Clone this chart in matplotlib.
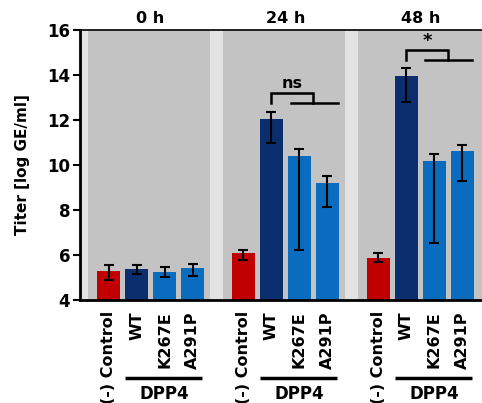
import numpy as np
import matplotlib
matplotlib.use("Agg")
import matplotlib.pyplot as plt

plt.rcParams['font.family'] = ['DejaVu Sans']
plt.rcParams['font.weight'] = 'bold'

# --------------------------------------------------------------
# Data
# --------------------------------------------------------------

timepoints = ["0 h", "24 h", "48 h"]
conditions = ["(-) Control", "WT", "K267E", "A291P"]

titer_0h = [5.30, 5.38, 5.26, 5.41]
titer_24h = [6.07, 12.04, 10.41, 9.21]
titer_48h = [5.88, 13.97, 10.18, 10.62]

err_hi_0h = [0.26, 0.18, 0.19, 0.19]
err_lo_0h = [0.41, 0.22, 0.22, 0.33]
err_hi_24h = [0.15, 0.30, 0.31, 0.30]
err_lo_24h = [0.29, 1.05, 4.19, 1.09]
err_hi_48h = [0.19, 0.34, 0.29, 0.28]
err_lo_48h = [0.20, 1.18, 3.63, 1.33]

sig_labels = [None, "ns", "*"]
sig_heights = [None, 12.74, 14.67]

values = [titer_0h, titer_24h, titer_48h]
err_hi = [err_hi_0h, err_hi_24h, err_hi_48h]
err_lo = [err_lo_0h, err_lo_24h, err_lo_48h]

colors = ["#c00000", "#0b2e6f", "#0a6cbf", "#0a6cbf"]

# --------------------------------------------------------------
# Plot
# --------------------------------------------------------------

fig = plt.figure(figsize=(4.82, 4.03), dpi=100)
ax = fig.add_axes([0.166, 0.2556, 0.834, 0.67])
ax.set_facecolor("#e3e3e3")

group_step = 4.82
bar_w = 0.82
xmin, xmax = -1.02, 13.34

ticks, ticklabels = [], []
for g, tp in enumerate(timepoints):
    start = g * group_step
    span_end = start + 3.63 if g < len(timepoints) - 1 else xmax + 1
    ax.axvspan(start - 0.72, span_end, color="#c3c3c3", zorder=0, lw=0)
    x = start + np.arange(len(conditions))
    ax.bar(x, values[g], width=bar_w, color=colors, zorder=2)
    ax.errorbar(x, values[g], yerr=[err_lo[g], err_hi[g]], fmt="none",
                ecolor="black", elinewidth=1.5, capsize=3.5, capthick=1.5, zorder=3)
    ticks.extend(x)
    ticklabels.extend(conditions)

    # time point header
    ax.text(start + 1.5, 1.015, tp, transform=ax.get_xaxis_transform(),
            ha="center", va="bottom", fontsize=11.5, fontweight="bold")

    # DPP4 underline and label
    ax.plot([start + 0.59, start + 3.34], [-0.288, -0.288], color="black", lw=2.5,
            transform=ax.get_xaxis_transform(), clip_on=False, solid_capstyle="butt")
    ax.text(start + 2.0, -0.35, "DPP4", transform=ax.get_xaxis_transform(),
            ha="center", va="center", fontsize=12, fontweight="bold")

    # significance bracket
    if sig_labels[g] is not None:
        h = sig_heights[g]
        top = h + 0.45
        ax.plot([start + 1, start + 1, start + 2.5, start + 2.5],
                [h, top, top, h], color="black", lw=1.8, zorder=4,
                solid_joinstyle="miter")
        ax.plot([start + 1.68, start + 3.36], [h, h], color="black", lw=1.8, zorder=4)
        if sig_labels[g] == "*":
            ax.text(start + 1.75, top + 0.0, sig_labels[g], ha="center", va="bottom",
                    fontsize=13, fontweight="bold")
        else:
            ax.text(start + 1.75, top + 0.1, sig_labels[g], ha="center", va="bottom",
                    fontsize=11.5, fontweight="bold")

ax.set_xlim(xmin, xmax)
ax.set_ylim(4, 16)
ax.set_yticks([4, 6, 8, 10, 12, 14, 16])
ax.set_xticks(ticks)
ax.set_xticklabels(ticklabels, rotation=90, fontsize=11.5, fontweight="bold")
ax.tick_params(axis="x", length=0, pad=8)
ax.tick_params(axis="y", length=5, width=1.5, labelsize=12, pad=2)
for lab in ax.get_yticklabels():
    lab.set_fontweight("bold")

ax.set_ylabel("Titer [log GE/ml]", fontsize=11, fontweight="bold", labelpad=12)

ax.spines["left"].set_linewidth(2)
ax.spines["bottom"].set_linewidth(2)
ax.spines["top"].set_linewidth(1.2)
ax.spines["right"].set_visible(False)

plt.savefig("out.png", dpi=100)
plt.close()
